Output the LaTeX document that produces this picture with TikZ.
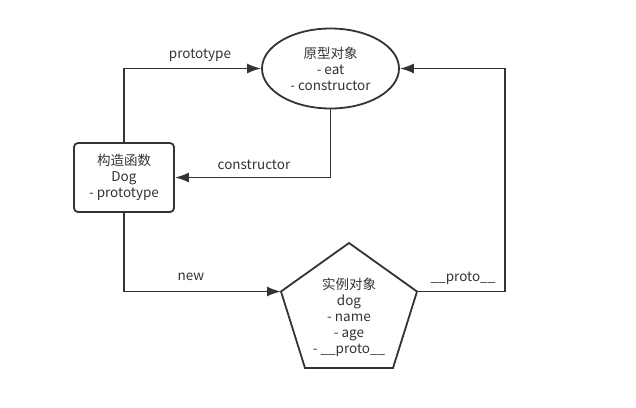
\documentclass[tikz,border=0pt]{standalone}
\usepackage{fontspec}
\setmainfont{Noto Sans CJK SC}
\usetikzlibrary{shapes.geometric,arrows.meta}
\definecolor{ink}{HTML}{333333}
\begin{document}
\begin{tikzpicture}[x=1pt,y=-1pt,
  every node/.style={font=\fontsize{13.5}{16}\selectfont, text=ink, align=center},
  shapeline/.style={draw=ink, line width=1.8pt},
  conn/.style={draw=ink, line width=1.8pt, -{Latex[length=14pt,width=10pt]}},
  lbl/.style={inner sep=0pt}]
\useasboundingbox (0,0) rectangle (636,407);
\node[shapeline, ellipse, minimum width=137pt, minimum height=80pt, inner sep=0pt] (ell) at (330.5,68.5)
  {原型对象\\- eat\\- constructor};
\node[shapeline, rectangle, rounded corners=4pt, minimum width=100pt, minimum height=69pt, inner sep=0pt] (rect) at (124,177.5)
  {构造函数\\Dog\\- prototype};
\coordinate (pt) at (349,243);
\coordinate (pl) at (281,291.5);
\coordinate (pbl) at (305,368);
\coordinate (pbr) at (393,368);
\coordinate (pr) at (417,291.5);
\draw[shapeline, line join=miter] (pt) -- (pl) -- (pbl) -- (pbr) -- (pr) -- cycle;
\node (ptext) at (349,317) {实例对象\\dog\\- name\\- age\\- \_\_proto\_\_};
\coordinate (c) at (505,291.5);
\draw[conn] (rect.north) |- (ell.west);
\draw[conn] (ell.south) |- (rect.east);
\draw[conn] (rect.south) |- (pl);
\draw[conn] (pr) -- (c) |- (ell.east);
\node[lbl] (l1) at (200,55) {prototype};
\node[lbl] (l2) at (254,165) {constructor};
\node[lbl] (l3) at (191,277) {new};
\node[lbl] (l4) at (463,278) {\_\_proto\_\_};
\end{tikzpicture}
\end{document}
